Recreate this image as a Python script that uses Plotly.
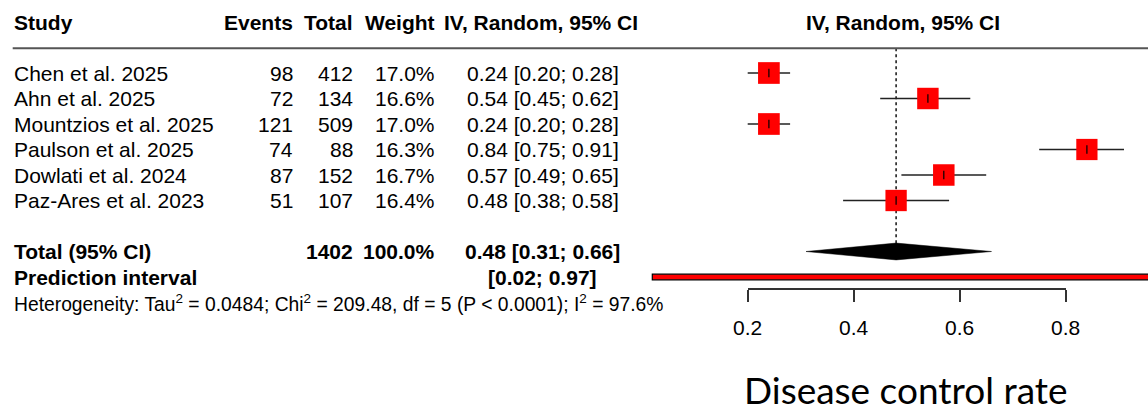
import plotly.graph_objects as go

# ---------------- data ----------------
studies = ["Chen et al. 2025", "Ahn et al. 2025", "Mountzios et al. 2025",
           "Paulson et al. 2025", "Dowlati et al. 2024", "Paz-Ares et al. 2023"]
events = [98, 72, 121, 74, 87, 51]
totals = [412, 134, 509, 88, 152, 107]
weights = [17.0, 16.6, 17.0, 16.3, 16.7, 16.4]
est = [0.24, 0.54, 0.24, 0.84, 0.57, 0.48]
ci_lo = [0.20, 0.45, 0.20, 0.75, 0.49, 0.38]
ci_hi = [0.28, 0.62, 0.28, 0.91, 0.65, 0.58]

pooled_n = 1402
pooled_w = 100.0
pooled = 0.48
pooled_lo = 0.31
pooled_hi = 0.66
pi_lo = 0.02
pi_hi = 0.97
het_text = ("Heterogeneity: Tau<sup>2</sup> = 0.0484; Chi<sup>2</sup> = 209.48, "
            "df = 5 (P &lt; 0.0001); I<sup>2</sup> = 97.6%")

tick_vals = [0.2, 0.4, 0.6, 0.8]
tick_text = ["0.2", "0.4", "0.6", "0.8"]
x_title = "Disease control rate"
headers = ["Study", "Events", "Total", "Weight", "IV, Random, 95% CI"]
plot_header = "IV, Random, 95% CI"

# ---------------- layout geometry ----------------
W, H = 1148, 405
PX_PER_UNIT = 530.0
PX_AT_02 = 747.7
ROW0_PX = 73.0
ROW_PX = 25.5

def px2val(p):
    return 0.2 + (p - PX_AT_02) / PX_PER_UNIT

def px2row(p):
    return 1 + (p - ROW0_PX) / ROW_PX

FONT = "Liberation Sans, Arial, Helvetica, sans-serif"
FS = 21

rows = list(range(1, len(studies) + 1))
total_row = len(studies) + 2
pi_row = total_row + 1
het_row = pi_row + 1
header_row = -1

fig = go.Figure()

# CI lines
cx, cy = [], []
for l, h, r in zip(ci_lo, ci_hi, rows):
    cx += [l, h, None]
    cy += [r, r, None]
fig.add_trace(go.Scatter(x=cx, y=cy, mode="lines",
                         line=dict(color="#222", width=1.6),
                         hoverinfo="skip", showlegend=False))

# weight squares
maxw = max(weights)
sizes = [21.7 * (w / maxw) ** 0.5 for w in weights]
fig.add_trace(go.Scatter(x=est, y=rows, mode="markers",
                         marker=dict(symbol="square", size=sizes, color="#ff0000",
                                     opacity=1, line=dict(width=0)),
                         hoverinfo="skip", showlegend=False))
# centre tick
fig.add_trace(go.Scatter(x=est, y=rows, mode="markers",
                         marker=dict(symbol="line-ns", size=6, opacity=1,
                                     line=dict(color="black", width=1.2)),
                         hoverinfo="skip", showlegend=False))

# pooled diamond
dh = 0.33
fig.add_trace(go.Scatter(x=[pooled_lo, pooled, pooled_hi, pooled, pooled_lo],
                         y=[total_row, total_row - dh, total_row, total_row + dh, total_row],
                         mode="lines", fill="toself", fillcolor="black",
                         line=dict(color="black", width=0.5),
                         hoverinfo="skip", showlegend=False))

# dummy trace to register the visible axis
fig.add_trace(go.Scatter(x=tick_vals, y=[None] * len(tick_vals), xaxis="x2", yaxis="y",
                         mode="markers", hoverinfo="skip", showlegend=False))

shapes = []
# header rule
shapes.append(dict(type="line", xref="paper", yref="y", x0=12.7 / W, x1=1,
                   y0=px2row(48.3), y1=px2row(48.3),
                   line=dict(color="#555", width=2)))
# reference dotted line
shapes.append(dict(type="line", xref="x", yref="y", x0=pooled, x1=pooled,
                   y0=px2row(48.3), y1=total_row, layer="below",
                   line=dict(color="black", width=1.4, dash="dot")))
# prediction interval bar
ph = 0.11
shapes.append(dict(type="rect", xref="x", yref="y", x0=pi_lo, x1=pi_hi,
                   y0=pi_row - ph, y1=pi_row + ph, fillcolor="#ff0000",
                   line=dict(color="black", width=1.2)))

ann = []
def txt(text, xpx, row, anchor, bold=False, size=FS, family=FONT):
    t = f"<b>{text}</b>" if bold else text
    ann.append(dict(text=t, x=xpx / W, xref="paper", y=row, yref="y",
                    xanchor=anchor, yanchor="middle", showarrow=False,
                    borderpad=0, font=dict(family=family, size=size, color="black")))

COL_STUDY = 12.7
COL_EV = 294
COL_TOT = 354
COL_W = 436
COL_CI = 542.5

# headers
txt(headers[0], COL_STUDY, header_row, "left", True)
txt(headers[1], COL_EV, header_row, "right", True)
txt(headers[2], COL_TOT, header_row, "right", True)
txt(headers[3], COL_W, header_row, "right", True)
txt(headers[4], 540.5, header_row, "center", True)
txt(plot_header, 903.4, header_row, "center", True)

for s, e, n, w, m, l, h, r in zip(studies, events, totals, weights, est, ci_lo, ci_hi, rows):
    txt(s, COL_STUDY, r, "left")
    txt(str(e), COL_EV, r, "right")
    txt(str(n), COL_TOT, r, "right")
    txt(f"{w:.1f}%", COL_W, r, "right")
    txt(f"{m:.2f} [{l:.2f}; {h:.2f}]", COL_CI, r, "center")

txt("Total (95% CI)", COL_STUDY, total_row, "left", True)
txt(str(pooled_n), COL_TOT, total_row, "right", True)
txt(f"{pooled_w:.1f}%", COL_W, total_row, "right", True)
txt(f"{pooled:.2f} [{pooled_lo:.2f}; {pooled_hi:.2f}]", COL_CI, total_row, "center", True)
txt("Prediction interval", COL_STUDY, pi_row, "left", True)
txt(f"[{pi_lo:.2f}; {pi_hi:.2f}]", COL_CI, pi_row, "center", True)
txt(het_text, COL_STUDY, het_row, "left", size=19.3)

txt(x_title, 906, px2row(389), "center", size=37, family="Lato, sans-serif")

axis_px = 289.3
fig.update_layout(
    width=W, height=H, margin=dict(l=0, r=0, t=0, b=0, pad=0, autoexpand=False),
    paper_bgcolor="white", plot_bgcolor="rgba(0,0,0,0)",
    xaxis=dict(visible=False, range=[px2val(0), px2val(W)], fixedrange=True,
               automargin=False),
    yaxis=dict(visible=False, range=[px2row(H), px2row(0)], fixedrange=True,
               automargin=False),
    xaxis2=dict(domain=[PX_AT_02 / W, (PX_AT_02 + 0.6 * PX_PER_UNIT) / W],
                range=[0.2, 0.8], anchor="free", position=1 - axis_px / H,
                showline=True, linecolor="#333", linewidth=1.5,
                ticks="outside", ticklen=12, tickwidth=1.5, tickcolor="#333",
                tickvals=tick_vals, ticktext=tick_text,
                tickfont=dict(family=FONT, size=FS, color="black"),
                ticklabelstandoff=8, automargin=False,
                showgrid=False, zeroline=False, fixedrange=True),
    shapes=shapes, annotations=ann, showlegend=False,
)

fig.write_html("out.html", config={"displayModeBar": False},
               post_script="document.body.style.margin='0';")
